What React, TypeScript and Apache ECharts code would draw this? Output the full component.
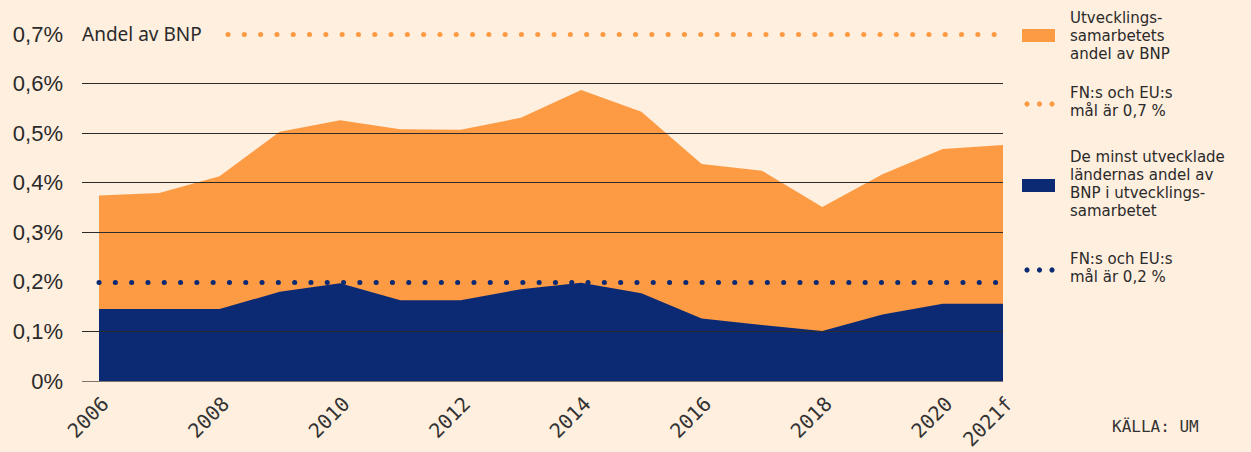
import React, { useEffect, useRef } from "react";
import * as echarts from "echarts";

// ---- Data ----
const years = [
  "2006", "2007", "2008", "2009", "2010", "2011", "2012", "2013",
  "2014", "2015", "2016", "2017", "2018", "2019", "2020", "2021f",
];
// Utvecklingssamarbetets andel av BNP (%)
const totalShare = [
  0.374, 0.379, 0.413, 0.503, 0.526, 0.508, 0.507, 0.531,
  0.587, 0.543, 0.438, 0.424, 0.351, 0.417, 0.468, 0.476,
];
// De minst utvecklade ländernas andel av BNP (%)
const ldcShare = [
  0.145, 0.145, 0.145, 0.18, 0.197, 0.163, 0.163, 0.185,
  0.198, 0.177, 0.126, 0.113, 0.101, 0.134, 0.156, 0.156,
];
const goalTotal = 0.7;
const goalLdc = 0.2;
const yMin = 0;
const yMax = 0.7;
const yStep = 0.1;
const axisTitle = "Andel av BNP";
const legendLabels = [
  "Utvecklings-\nsamarbetets\nandel av BNP",
  "FN:s och EU:s\nmål är 0,7 %",
  "De minst utvecklade\nländernas andel av\nBNP i utvecklings-\nsamarbetet",
  "FN:s och EU:s\nmål är 0,2 %",
];
const sourceText = "KÄLLA: UM";

// ---- Styles ----
const BG = "#FFEFDF";
const ORANGE = "#FD9B45";
const BLUE = "#0C2A74";
const TEXT = "#2a2a2a";
const GRID = "#2b2b2b";
const TRANSPARENT = "rgba(0,0,0,0)";

export default function App() {
  const ref = useRef<HTMLDivElement>(null);

  useEffect(() => {
    document.body.style.margin = "0";
    document.body.style.background = BG;
    if (!ref.current) return;
    const chart = echarts.init(ref.current, undefined, { renderer: "svg" });

    const dotLine = (color: string) => ({
      color,
      width: 5,
      type: [0.1, 16.2],
      cap: "round",
      opacity: 1,
    });

    const fmt = (v: number) => {
      const r = Math.round(v * 10) / 10;
      return (r === 0 ? "0" : r.toFixed(1).replace(".", ",")) + "%";
    };

    const legendX = 1022;
    const legendTextX = 1070;
    const legendCenters = [36, 102, 184, 268];
    const legendText = (i: number) => ({
      type: "text",
      x: legendTextX,
      y: legendCenters[i],
      style: {
        text: legendLabels[i],
        fontFamily: "DejaVu Sans",
        fontSize: 15,
        lineHeight: 18,
        fill: TEXT,
        align: "left",
        verticalAlign: "middle",
      },
    });
    const dots = (cy: number, color: string) =>
      [0, 12.5, 25].map((dx) => ({
        type: "circle",
        shape: { cx: legendX + 5 + dx, cy, r: 2.6 },
        style: { fill: color },
      }));

    const option: any = {
      animation: false,
      backgroundColor: BG,
      grid: [
        { left: 82, right: 248, top: 34, bottom: 71 },
        { left: 99, right: 248, top: 34, bottom: 71 },
        { left: 105, right: 242, top: 34, bottom: 71 },
      ],
      xAxis: [
        { gridIndex: 0, type: "value", show: false, min: 0, max: 1 },
        {
          gridIndex: 1,
          type: "category",
          data: years,
          boundaryGap: false,
          show: false,
        },
        {
          gridIndex: 2,
          type: "category",
          data: years,
          boundaryGap: false,
          axisLine: { show: false },
          axisTick: { show: false },
          splitLine: { show: false },
          axisLabel: {
            rotate: 45,
            margin: 31,
            fontFamily: "DejaVu Sans Mono",
            fontSize: 20,
            color: "#333",
            interval: (i: number) => i % 2 === 0 || i === years.length - 1,
          },
        },
      ],
      yAxis: [
        {
          gridIndex: 0,
          type: "value",
          min: yMin,
          max: yMax,
          interval: yStep,
          z: 5,
          name: axisTitle,
          nameLocation: "end",
          nameGap: 0,
          nameTextStyle: {
            align: "left",
            verticalAlign: "middle",
            fontFamily: "Noto Sans",
            fontSize: 19,
            color: TEXT,
          },
          axisLine: { show: false },
          axisTick: { show: false },
          axisLabel: {
            margin: 19,
            fontFamily: "Liberation Sans",
            fontSize: 22,
            color: TEXT,
            formatter: fmt,
          },
          splitLine: {
            show: true,
            lineStyle: {
              width: 1,
              color: [
                "#7d756d", GRID, TRANSPARENT, GRID, GRID, GRID, GRID, TRANSPARENT,
              ],
            },
          },
        },
        { gridIndex: 1, type: "value", min: yMin, max: yMax, show: false },
        { gridIndex: 2, type: "value", min: yMin, max: yMax, show: false },
      ],
      series: [
        {
          type: "line",
          xAxisIndex: 1,
          yAxisIndex: 1,
          data: totalShare,
          showSymbol: false,
          symbol: "none",
          lineStyle: { width: 0, color: ORANGE },
          areaStyle: { color: ORANGE, opacity: 1 },
          silent: true,
          markLine: {
            silent: true,
            symbol: "none",
            label: { show: false },
            lineStyle: dotLine(ORANGE),
            data: [[{ yAxis: goalTotal, x: 228 }, { yAxis: goalTotal, x: 996 }]],
          },
        },
        {
          type: "line",
          xAxisIndex: 1,
          yAxisIndex: 1,
          data: ldcShare,
          showSymbol: false,
          symbol: "none",
          lineStyle: { width: 0, color: BLUE },
          areaStyle: { color: BLUE, opacity: 1 },
          silent: true,
          markLine: {
            silent: true,
            symbol: "none",
            label: { show: false },
            lineStyle: dotLine(BLUE),
            data: [[{ xAxis: years[0], yAxis: goalLdc }, { yAxis: goalLdc, x: 996 }]],
          },
        },
      ],
      graphic: [
        {
          type: "rect",
          shape: { x: legendX, y: 29, width: 33, height: 13 },
          style: { fill: ORANGE },
        },
        legendText(0),
        ...dots(104, ORANGE),
        legendText(1),
        {
          type: "rect",
          shape: { x: legendX, y: 179, width: 33, height: 13 },
          style: { fill: BLUE },
        },
        legendText(2),
        ...dots(270, BLUE),
        legendText(3),
        {
          type: "text",
          x: 1112,
          y: 426,
          style: {
            text: sourceText,
            fontFamily: "DejaVu Sans Mono",
            fontSize: 16,
            fill: "#333",
            align: "left",
            verticalAlign: "middle",
          },
        },
      ],
    };

    chart.setOption(option);
    return () => chart.dispose();
  }, []);

  return (
    <div
      ref={ref}
      style={{
        position: "fixed",
        left: 0,
        top: 0,
        width: 1251,
        height: 452,
        background: BG,
      }}
    />
  );
}
